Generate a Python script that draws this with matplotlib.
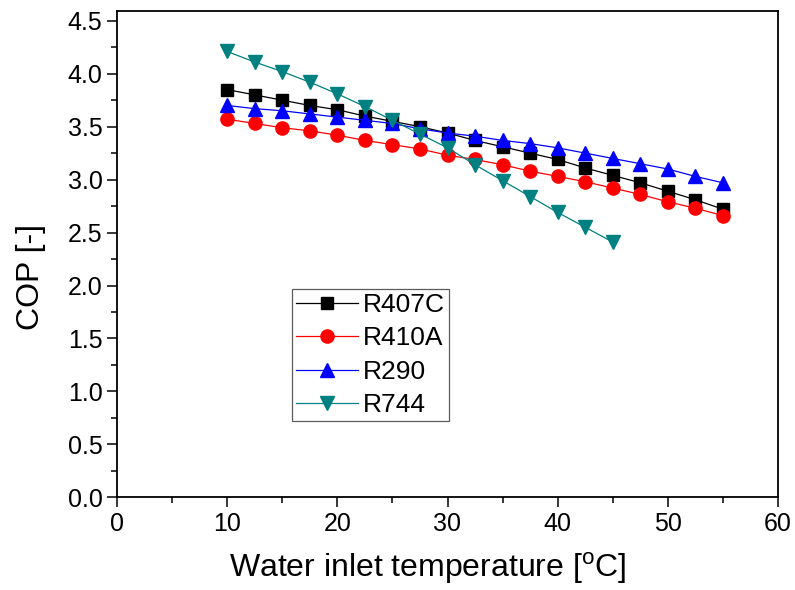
import matplotlib
matplotlib.use("Agg")
import matplotlib.pyplot as plt
from matplotlib.ticker import MultipleLocator

plt.rcParams['font.family'] = ['Liberation Sans', 'DejaVu Sans']
plt.rcParams['mathtext.fontset'] = 'custom'
plt.rcParams['mathtext.rm'] = 'Liberation Sans'

temps = [10, 12.5, 15, 17.5, 20, 22.5, 25, 27.5, 30, 32.5, 35, 37.5, 40,
         42.5, 45, 47.5, 50, 52.5, 55]
temps_r744 = [10, 12.5, 15, 17.5, 20, 22.5, 25, 27.5, 30, 32.5, 35, 37.5,
              40, 42.5, 45]

cop_r407c = [3.85, 3.80, 3.75, 3.70, 3.66, 3.60, 3.55, 3.50, 3.44, 3.37,
             3.31, 3.25, 3.19, 3.11, 3.04, 2.97, 2.89, 2.81, 2.72]
cop_r410a = [3.57, 3.53, 3.49, 3.46, 3.42, 3.37, 3.33, 3.29, 3.23, 3.19,
             3.14, 3.08, 3.03, 2.98, 2.92, 2.86, 2.79, 2.73, 2.66]
cop_r290 = [3.70, 3.67, 3.65, 3.62, 3.59, 3.56, 3.53, 3.48, 3.44, 3.41,
            3.37, 3.34, 3.30, 3.25, 3.20, 3.15, 3.10, 3.03, 2.97]
cop_r744 = [4.21, 4.11, 4.02, 3.92, 3.81, 3.69, 3.56, 3.43, 3.30, 3.14,
            2.99, 2.84, 2.69, 2.55, 2.41]

labels = ['R407C', 'R410A', 'R290', 'R744']

fig = plt.figure(figsize=(7.95, 5.90), dpi=100)
ax = fig.add_axes([117/795, 1-497.3/590, (778-117)/795, (497.3-10.7)/590])

ax.plot(temps, cop_r407c, color='black', marker='s', ms=8.5, lw=0.9,
        label=labels[0])
ax.plot(temps, cop_r410a, color='#ff0000', marker='o', ms=9.5, lw=0.9,
        label=labels[1])
ax.plot(temps, cop_r290, color='#0000ff', marker='^', ms=10, lw=0.9,
        label=labels[2])
ax.plot(temps_r744, cop_r744, color='#008080', marker='v', ms=10, lw=0.9,
        label=labels[3])

ax.set_xlim(0, 60)
ax.set_ylim(0, 4.595)
ax.xaxis.set_major_locator(MultipleLocator(10))
ax.xaxis.set_minor_locator(MultipleLocator(5))
ax.yaxis.set_major_locator(MultipleLocator(0.5))
ax.yaxis.set_minor_locator(MultipleLocator(0.25))
ax.yaxis.set_major_formatter(matplotlib.ticker.FormatStrFormatter('%.1f'))
ax.tick_params(which='major', direction='out', length=7, width=1.1,
               labelsize=18, top=False, right=False)
ax.tick_params(which='minor', direction='out', length=4, width=1.1,
               top=False, right=False)
for s in ax.spines.values():
    s.set_linewidth(1.3)

ax.set_xlabel(r'Water inlet temperature [$^\mathregular{o}$C]', fontsize=23)
ax.xaxis.label.set_va('baseline')
ax.xaxis.set_label_coords(0.4705, -0.1638)
ax.set_ylabel('COP [-]', fontsize=23)
ax.yaxis.set_label_coords(-0.108, 0.453)

leg = ax.legend(loc='upper left', bbox_to_anchor=((292-117)/661, (497.3-289)/486.6),
                fontsize=19, frameon=True, fancybox=False, edgecolor='#333333',
                handlelength=2.35, handletextpad=0.2, borderpad=0.15,
                labelspacing=0.36, borderaxespad=0)
leg.get_frame().set_linewidth(0.9)

fig.savefig('out.png', dpi=100)
